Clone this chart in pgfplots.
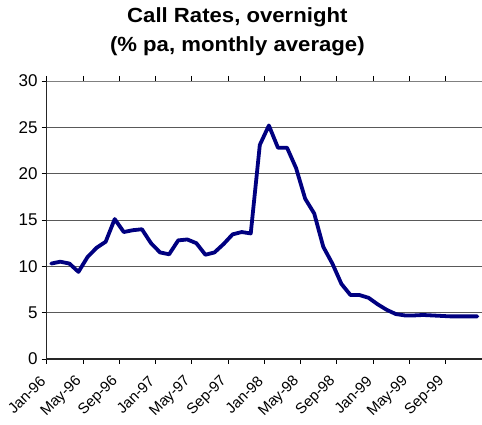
\documentclass[border=0pt]{standalone}
\usepackage{pgfplots}
\pgfplotsset{compat=1.18}
\usepackage{pgfplotstable}
\usepackage{fontspec}
\setmainfont{Liberation Sans}
\newfontfamily\titlefont[FakeStretch=1.08]{Liberation Sans}
\definecolor{navyline}{RGB}{0,0,128}
\pgfplotstableread{
x y
0.5 10.3
1.5 10.5
2.5 10.3
3.5 9.4
4.5 11.0
5.5 12.0
6.5 12.65
7.5 15.1
8.5 13.7
9.5 13.9
10.5 14.0
11.5 12.5
12.5 11.5
13.5 11.3
14.5 12.8
15.5 12.9
16.5 12.5
17.5 11.25
18.5 11.5
19.5 12.4
20.5 13.45
21.5 13.7
22.5 13.55
23.5 23.1
24.5 25.2
25.5 22.8
26.5 22.8
27.5 20.6
28.5 17.3
29.5 15.7
30.5 12.1
31.5 10.3
32.5 8.1
33.5 6.9
34.5 6.9
35.5 6.6
36.5 5.9
37.5 5.3
38.5 4.85
39.5 4.7
40.5 4.7
41.5 4.75
42.5 4.7
43.5 4.65
44.5 4.6
45.5 4.6
46.5 4.6
47.5 4.6
}\ratedata
\begin{document}
\begin{tikzpicture}
\useasboundingbox (-46.7pt,-66pt) rectangle (435.3pt,359pt);
\begin{axis}[
  at={(0pt,0pt)}, anchor=south west,
  scale only axis,
  width=435.3pt, height=278pt,
  xmin=0, xmax=48, ymin=0, ymax=30,
  xtick={0,4,...,48},
  xticklabels={Jan-96,May-96,Sep-96,Jan-97,May-97,Sep-97,Jan-98,May-98,Sep-98,Jan-99,May-99,Sep-99,{}},
  ytick={0,5,...,30},
  tick align=outside,
  major tick length=5pt,
  tick style={black, line width=0.8pt},
  x tick label style={xshift=-3pt, yshift=-14pt, rotate=45, anchor=east, font=\fontsize{15}{17}\selectfont, inner sep=1pt},
  y tick label style={font=\fontsize{17}{19}\selectfont, inner sep=1pt, xshift=-3pt},
  /pgf/number format/assume math mode=true,
  ymajorgrids,
  grid style={gray!70!black, line width=0.8pt},
  axis line style={gray, line width=0.8pt},
  title={Call Rates, overnight\\(\% pa, monthly average)},
  title style={at={(0.5,1)}, anchor=south, inner sep=0pt, yshift=18.5pt, xshift=-27pt,
    align=center, font=\fontsize{20.5}{29}\titlefont\bfseries},
  after end axis/.code={
    \draw[black!85, line width=1.1pt] (rel axis cs:0,1) -- (rel axis cs:0,0) -- (rel axis cs:1,0);
  },
]
\addplot[navyline, line width=3.8pt, line join=round, line cap=round, mark=none] table[x=x,y=y] {\ratedata};
\end{axis}
\end{tikzpicture}
\end{document}
